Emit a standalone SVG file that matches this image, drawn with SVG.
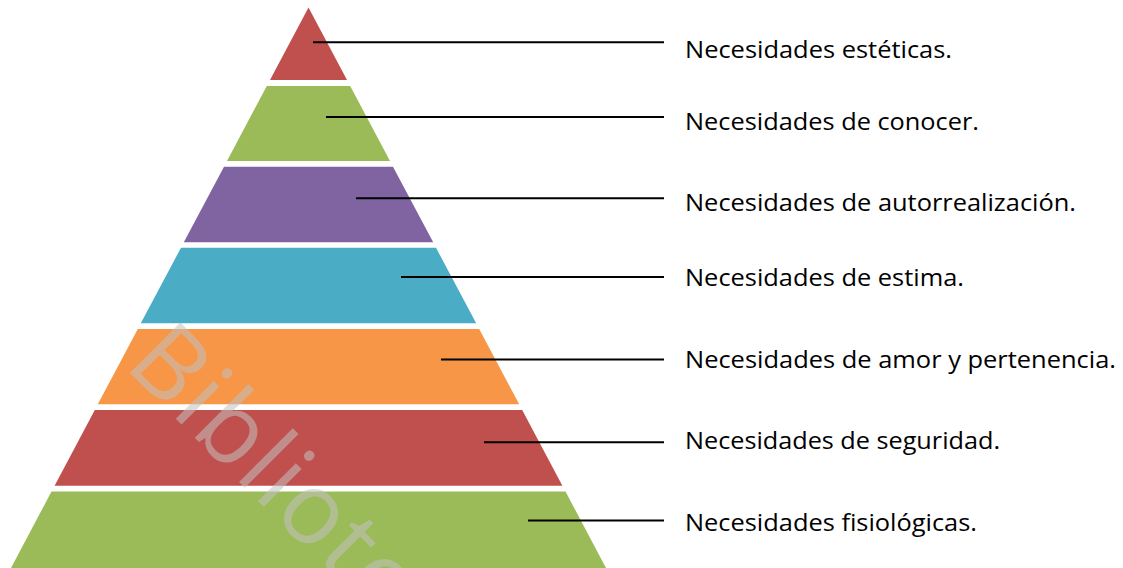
<svg xmlns="http://www.w3.org/2000/svg" width="1123" height="568" viewBox="0 0 1123 568">
<style>
.lbl{font-family:"Open Sans","Noto Sans","Liberation Sans",sans-serif;font-size:24.5px;fill:#000}
.conn{stroke:#000;stroke-width:2;fill:none}
.wm{font-family:"Open Sans","Liberation Sans",sans-serif;font-weight:400;font-size:100px;letter-spacing:1.5px;fill:#C1C1C1;fill-opacity:0.55}
</style>
<rect width="1123" height="568" fill="#fff"/>
<g id="level1"><polygon points="308.5,7.5 347,80 270,80" fill="#C0504D"/></g>
<g id="level2"><polygon points="266.8,86 350.2,86 390,161 227,161" fill="#9BBB59"/></g>
<g id="level3"><polygon points="224,166.7 393,166.7 433.2,242.3 183.8,242.3" fill="#8064A2"/></g>
<g id="level4"><polygon points="181,247.7 436,247.7 476.2,323.3 140.8,323.3" fill="#4BACC6"/></g>
<g id="level5"><polygon points="137.8,329 479.2,329 519.2,404.3 97.8,404.3" fill="#F79646"/></g>
<g id="level6"><polygon points="94.8,410 522.2,410 562.4,485.7 54.6,485.7" fill="#C0504D"/></g>
<g id="level7"><polygon points="51.5,491.5 565.5,491.5 606,568 11,568" fill="#9BBB59"/></g>
<g id="watermark"><text class="wm" transform="translate(123,366) rotate(45)">Bibliote</text></g>
<g id="connectors">
<line class="conn" x1="313" y1="42.3" x2="664" y2="42.3"/>
<line class="conn" x1="326" y1="117" x2="664" y2="117"/>
<line class="conn" x1="356" y1="198.3" x2="664" y2="198.3"/>
<line class="conn" x1="401" y1="277" x2="664" y2="277"/>
<line class="conn" x1="441" y1="359.5" x2="664" y2="359.5"/>
<line class="conn" x1="484" y1="442.3" x2="664" y2="442.3"/>
<line class="conn" x1="528" y1="520.5" x2="664" y2="520.5"/>
</g>
<g id="labels">
<text class="lbl" x="685" y="58" textLength="267" lengthAdjust="spacingAndGlyphs">Necesidades estéticas.</text>
<text class="lbl" x="685" y="130" textLength="294" lengthAdjust="spacingAndGlyphs">Necesidades de conocer.</text>
<text class="lbl" x="685" y="211" textLength="391" lengthAdjust="spacingAndGlyphs">Necesidades de autorrealización.</text>
<text class="lbl" x="685" y="286" textLength="279" lengthAdjust="spacingAndGlyphs">Necesidades de estima.</text>
<text class="lbl" x="685" y="368" textLength="431" lengthAdjust="spacingAndGlyphs">Necesidades de amor y pertenencia.</text>
<text class="lbl" x="685" y="449" textLength="315" lengthAdjust="spacingAndGlyphs">Necesidades de seguridad.</text>
<text class="lbl" x="685" y="531" textLength="292" lengthAdjust="spacingAndGlyphs">Necesidades fisiológicas.</text>
</g>
</svg>
